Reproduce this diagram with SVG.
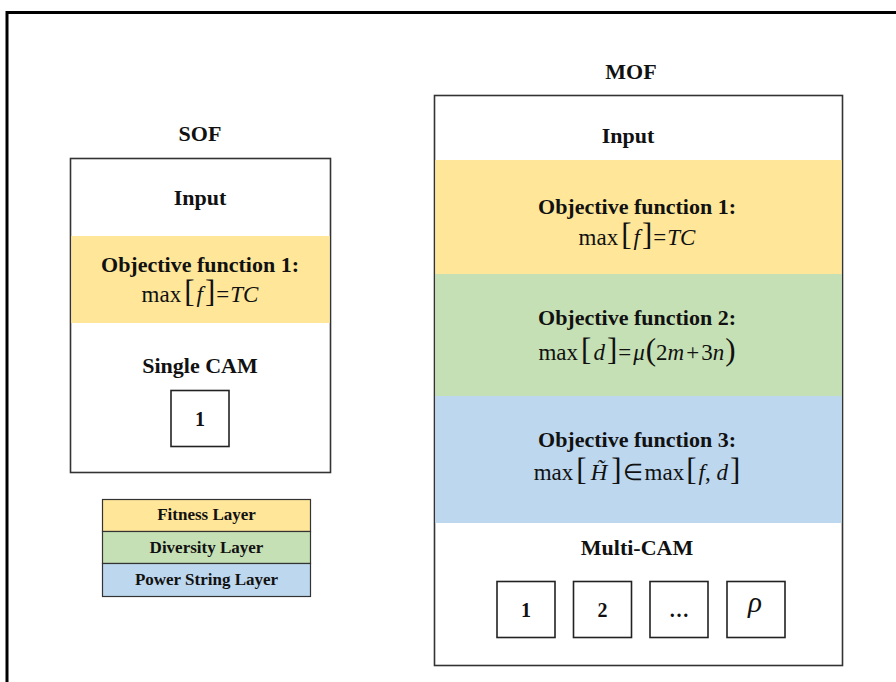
<svg xmlns="http://www.w3.org/2000/svg" width="896" height="682" viewBox="0 0 896 682">
<style>
.b{font-family:"Liberation Serif","Times New Roman",serif;font-weight:bold;fill:#111;text-anchor:middle}
.h{font-size:22px}
.m{font-family:"Liberation Serif","Times New Roman",serif;font-size:23px;fill:#111;text-anchor:middle}
.i{font-style:italic}
.br{font-size:31px;font-weight:normal}
.box{fill:#fff;stroke:#333;stroke-width:1.6}
.cam{fill:#fff;stroke:#222;stroke-width:1.6}
.y{fill:#FFE699}
.g{fill:#C5E0B4}
.bl{fill:#BDD7EE}
</style>
<rect x="0" y="0" width="896" height="682" fill="#fff"/>
<rect x="7" y="12.5" width="1000" height="1000" fill="none" stroke="#000" stroke-width="3"/>
<g id="connectors"/>
<g id="sof">
<text class="b h" x="200" y="141">SOF</text>
<rect class="box" x="70.5" y="158.5" width="260" height="314"/>
<rect class="y" x="71.3" y="236" width="258.4" height="87"/>
<text class="b h" x="200" y="205">Input</text>
<text class="b h" x="200" y="272">Objective function 1:</text>
<text class="m" x="200" y="302">max<tspan class="br" dx="3">[</tspan><tspan class="i" dx="2">f</tspan><tspan class="br" dx="2">]</tspan><tspan dx="1">=</tspan><tspan class="i" dx="1">TC</tspan></text>
<text class="b h" x="200" y="373">Single CAM</text>
<g id="sof-cam1"><rect class="cam" x="171" y="390.5" width="58" height="56"/><text class="b" x="200" y="426" font-size="20">1</text></g>
</g>
<g id="legend">
<rect class="y" x="102.5" y="499.5" width="208" height="32" stroke="#333" stroke-width="1.2"/>
<rect class="g" x="102.5" y="531.5" width="208" height="32" stroke="#333" stroke-width="1.2"/>
<rect class="bl" x="102.5" y="563.5" width="208" height="33" stroke="#333" stroke-width="1.2"/>
<text class="b" x="206.5" y="520" font-size="17">Fitness Layer</text>
<text class="b" x="206.5" y="553" font-size="17">Diversity Layer</text>
<text class="b" x="206.5" y="585" font-size="17">Power String Layer</text>
</g>
<g id="mof">
<text class="b h" x="631" y="79">MOF</text>
<rect class="box" x="434.5" y="95.5" width="408" height="570"/>
<rect class="y" x="435.3" y="160" width="406.4" height="114"/>
<rect class="g" x="435.3" y="274" width="406.4" height="122"/>
<rect class="bl" x="435.3" y="396" width="406.4" height="127"/>
<text class="b h" x="628" y="143">Input</text>
<text class="b h" x="637" y="214">Objective function 1:</text>
<text class="m" x="637" y="245">max<tspan class="br" dx="3">[</tspan><tspan class="i" dx="2">f</tspan><tspan class="br" dx="2">]</tspan><tspan dx="1">=</tspan><tspan class="i" dx="1">TC</tspan></text>
<text class="b h" x="637" y="325">Objective function 2:</text>
<text class="m" x="637" y="360">max<tspan class="br" dx="3">[</tspan><tspan class="i" dx="2">d</tspan><tspan class="br" dx="2">]</tspan><tspan dx="1">=</tspan><tspan class="i" dx="2">μ</tspan><tspan class="br" dx="1">(</tspan>2<tspan class="i">m</tspan><tspan dx="2">+</tspan><tspan dx="2">3</tspan><tspan class="i">n</tspan><tspan class="br" dx="1">)</tspan></text>
<text class="b h" x="637" y="447">Objective function 3:</text>
<text class="m" x="637" y="480">max<tspan class="br" dx="3">[</tspan><tspan class="i" dx="4">H̃</tspan><tspan class="br" dx="4">]</tspan><tspan dx="1">∈</tspan><tspan dx="2">max</tspan><tspan class="br" dx="2">[</tspan><tspan class="i" dx="2">f</tspan>, <tspan class="i">d</tspan><tspan class="br" dx="2">]</tspan></text>
<text class="b h" x="637" y="555">Multi-CAM</text>
<g id="mof-cam1"><rect class="cam" x="497" y="581.5" width="58" height="56"/><text class="b" x="526" y="617" font-size="20">1</text></g>
<g id="mof-cam2"><rect class="cam" x="573.5" y="581.5" width="58" height="56"/><text class="b" x="602.5" y="617" font-size="20">2</text></g>
<g id="mof-cam3"><rect class="cam" x="650" y="581.5" width="58" height="56"/><text class="b" x="679" y="617" font-size="20">…</text></g>
<g id="mof-cam4"><rect class="cam" x="727" y="581.5" width="58" height="56"/><text class="m i" x="755" y="612" style="font-size:29px">ρ</text></g>
</g>
</svg>
